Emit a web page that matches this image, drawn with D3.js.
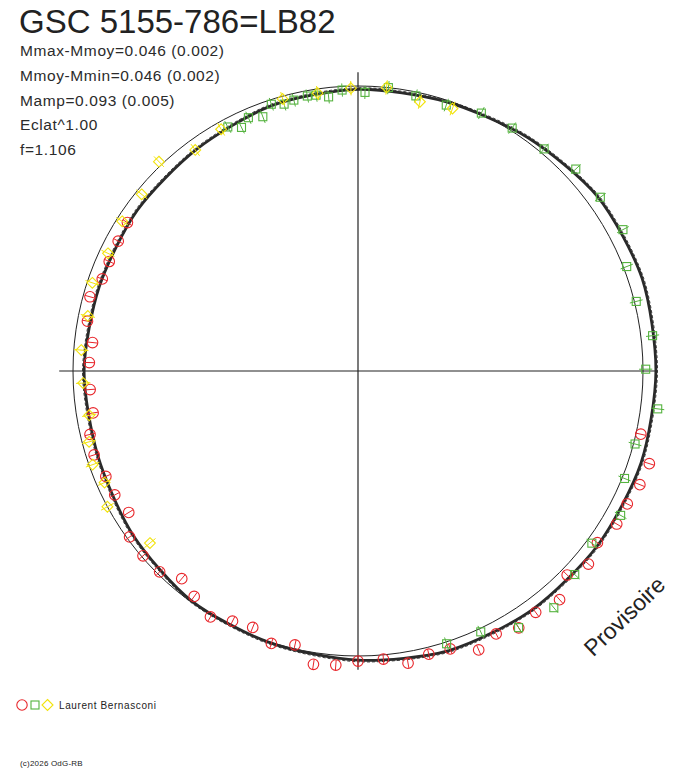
<!DOCTYPE html>
<html><head><meta charset="utf-8">
<script src="https://cdn.jsdelivr.net/npm/d3@7/dist/d3.min.js"></script>
<style>body{margin:0;background:#fff}svg{display:block}</style>
</head><body>
<script>
// ---- data (phase 0..1, magnitude offset from mean circle) ----
const redPhase = [0.285,0.299,0.311,0.323,0.335,0.349,0.361,0.373,0.385,0.399,0.411,0.423,0.435,0.449,0.461,0.473,0.486,0.500,0.512,0.524,0.536,0.549,0.562,0.574,0.586,0.600,0.612,0.624,0.637,0.650,0.662,0.675,0.687,0.701,0.713,0.725,0.739,0.755,0.767,0.779,0.793,0.805,0.816,0.829,0.841];
const redMag   = [0.016,0.069,0.063,0.051,0.052,0.032,0.052,0.024,0.066,0.049,0.060,0.040,0.063,0.026,0.023,0.038,0.014,0.017,0.033,0.039,-0.013,0.003,-0.026,-0.017,0.006,-0.021,-0.042,-0.009,-0.005,-0.009,-0.052,-0.040,-0.039,-0.027,-0.032,-0.056,-0.055,-0.054,-0.060,-0.033,-0.023,-0.044,-0.044,-0.041,-0.036];
const greenPhase = [0.004,0.017,0.033,0.051,0.071,0.090,0.111,0.131,0.151,0.172,0.191,0.211,0.231,0.249,0.270,0.291,0.311,0.330,0.351,0.370,0.390,0.411,0.430,0.450,0.922,0.929,0.935,0.943,0.950,0.957,0.963,0.971,0.976,0.983,0.991];
const greenMag   = [-0.021,0.000,-0.013,-0.016,0.003,0.009,0.016,0.040,0.044,0.051,0.011,0.006,0.039,0.009,0.057,0.005,0.008,0.049,0.018,0.041,0.074,0.059,0.011,0.006,-0.028,-0.050,-0.030,-0.045,-0.015,-0.027,-0.022,-0.018,-0.020,-0.031,-0.012];
const yellowPhase = [0.016,0.036,0.055,0.640,0.671,0.684,0.696,0.709,0.724,0.743,0.762,0.782,0.801,0.820,0.840,0.859,0.879,0.899,0.918,0.957,0.977,0.996];
const yellowMag   = [0.000,-0.029,-0.020,-0.050,0.000,-0.027,-0.012,-0.023,-0.042,-0.033,-0.025,-0.031,-0.017,-0.029,-0.019,-0.019,0.013,-0.035,-0.024,-0.009,-0.014,-0.007];
const fitPhase = [0.00,0.05,0.10,0.15,0.20,0.25,0.30,0.35,0.40,0.45,0.50,0.55,0.60,0.65,0.70,0.75,0.80,0.85,0.90,0.95];
const fitMag   = [-0.011,-0.006,0.012,0.038,0.046,0.043,0.042,0.038,0.035,0.030,0.014,0.002,-0.004,-0.022,-0.038,-0.037,-0.043,-0.040,-0.036,-0.020];
const errRed = 0.017, errGreen = 0.022, errYellow = 0.024;
const title = "GSC 5155-786=LB82";
const statLines = ["Mmax-Mmoy=0.046 (0.002)","Mmoy-Mmin=0.046 (0.002)","Mamp=0.093 (0.005)","Eclat^1.00","f=1.106"];
const observer = "Laurent Bernasconi";
const stamp = "Provisoire";
const footer = "(c)2026 OdG-RB";

// ---- drawing ----
const W = 688, H = 768, cx = 358, cy = 371;
const RED = "#e8262b", GREEN = "#55b33f", YELLOW = "#f2e30c", INK = "#222";
const svg = d3.select("body").append("svg").attr("width", W).attr("height", H);
svg.append("rect").attr("width", W).attr("height", H).attr("fill", "#fff");

const rScale = d3.scaleLinear().domain([0, 0.1]).range([285, 315]);
const aScale = d3.scaleLinear().domain([0, 1]).range([0, 2 * Math.PI]);
const px = (p, m) => cx + rScale(m) * Math.sin(aScale(p));
const py = (p, m) => cy - rScale(m) * Math.cos(aScale(p));

const g = svg.append("g");
// axes
const ext = rScale(d3.max(fitMag));
g.append("line").attr("x1", cx - ext).attr("x2", cx + ext).attr("y1", cy).attr("y2", cy).attr("stroke", INK).attr("stroke-width", 1.2);
g.append("line").attr("x1", cx).attr("x2", cx).attr("y1", cy - ext).attr("y2", cy + ext).attr("stroke", INK).attr("stroke-width", 1.2);
// mean circle
g.append("circle").attr("cx", cx).attr("cy", cy).attr("r", rScale(0)).attr("fill", "none").attr("stroke", INK).attr("stroke-width", 1);
// fit curve
const fit = fitPhase.map((p, i) => [aScale(p), rScale(fitMag[i])]);
const radial = d3.lineRadial().curve(d3.curveCardinalClosed.tension(0.2));
g.append("path").attr("transform", `translate(${cx},${cy})`).attr("d", radial(fit))
  .attr("fill", "none").attr("stroke", "#2a2a2a").attr("stroke-width", 2.8);
g.append("path").attr("transform", `translate(${cx},${cy})`).attr("d", radial(fit.map(d => [d[0], d[1] + 1.6])))
  .attr("fill", "none").attr("stroke", "#2a2a2a").attr("stroke-width", 0.9).attr("stroke-dasharray", "3,2");

function series(ph, mg, err, color, kind) {
  const grp = g.append("g");
  ph.forEach((p, i) => {
    const m = mg[i];
    grp.append("line").attr("x1", px(p, m - err)).attr("y1", py(p, m - err))
      .attr("x2", px(p, m + err)).attr("y2", py(p, m + err)).attr("stroke", color).attr("stroke-width", 1);
    const x = px(p, m), y = py(p, m);
    if (kind === "circle") {
      grp.append("circle").attr("cx", x).attr("cy", y).attr("r", 5.3).attr("fill", "none").attr("stroke", color).attr("stroke-width", 1.1);
    } else if (kind === "square") {
      grp.append("rect").attr("x", x - 4).attr("y", y - 4).attr("width", 8).attr("height", 8).attr("fill", "none").attr("stroke", color).attr("stroke-width", 1.1);
    } else {
      grp.append("path").attr("d", `M${x},${y - 5.4}L${x + 5.4},${y}L${x},${y + 5.4}L${x - 5.4},${y}Z`).attr("fill", "none").attr("stroke", color).attr("stroke-width", 1.1);
    }
  });
}
series(redPhase, redMag, errRed, RED, "circle");
series(greenPhase, greenMag, errGreen, GREEN, "square");
series(yellowPhase, yellowMag, errYellow, YELLOW, "diamond");

// texts
const font = "Liberation Sans, Arial, sans-serif";
svg.append("text").attr("x", 19).attr("y", 33).attr("font-family", font).attr("font-size", 33).attr("fill", INK).text(title);
statLines.forEach((s, i) => {
  svg.append("text").attr("x", 20).attr("y", 56 + i * 24.8).attr("font-family", font).attr("font-size", 15.5)
    .attr("letter-spacing", 0.6).attr("fill", "#2b2b2b").text(s);
});
svg.append("text").attr("transform", "translate(630,622) rotate(-44)").attr("text-anchor", "middle")
  .attr("font-family", font).attr("font-size", 23).attr("fill", INK).text(stamp);

// legend
svg.append("circle").attr("cx", 22).attr("cy", 705).attr("r", 5.2).attr("fill", "none").attr("stroke", RED).attr("stroke-width", 1.1);
svg.append("rect").attr("x", 31).attr("y", 701).attr("width", 8).attr("height", 8).attr("fill", "none").attr("stroke", GREEN).attr("stroke-width", 1.1);
svg.append("path").attr("d", "M47.5,699.5L53,705L47.5,710.5L42,705Z").attr("fill", "none").attr("stroke", YELLOW).attr("stroke-width", 1.1);
svg.append("text").attr("x", 59).attr("y", 709).attr("font-family", font).attr("font-size", 10).attr("letter-spacing", 0.6).attr("fill", INK).text(observer);
svg.append("text").attr("x", 20).attr("y", 766).attr("font-family", font).attr("font-size", 8).attr("letter-spacing", 0.2).attr("fill", INK).text(footer);
</script>
</body></html>
